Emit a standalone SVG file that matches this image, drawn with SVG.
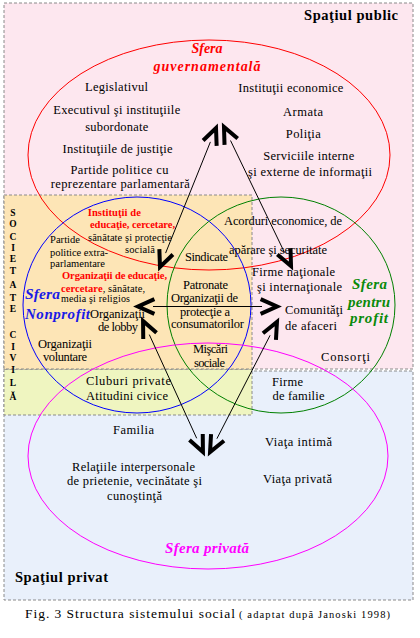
<svg xmlns="http://www.w3.org/2000/svg" width="420" height="638" viewBox="0 0 420 638">
<style>
.bg{stroke:#8a8a8a;stroke-width:1;stroke-dasharray:3,2}
.sph{fill:none;stroke-width:1}
.t{font-family:"Liberation Serif","Times New Roman",serif;font-size:12.5px;fill:#000}
.s{font-size:10.5px}
.rb{fill:#ff0000;font-weight:bold}
.ttl{font-weight:bold;font-style:italic;font-size:15px}
.b{font-weight:bold}
.m{text-anchor:middle}
.vl{font-family:"Liberation Serif","Times New Roman",serif;font-size:9.5px;font-weight:bold;text-anchor:middle}
.ln{stroke:#000;stroke-width:1;fill:none;marker-start:url(#chev);marker-end:url(#chev)}
</style>
<defs>
<marker id="chev" markerUnits="userSpaceOnUse" markerWidth="30" markerHeight="30" refX="3" refY="10" orient="auto-start-reverse" overflow="visible">
<path d="M1.6,2.7 L18,10 L1.6,17.3" fill="none" stroke="#000" stroke-width="4"/>
</marker>
</defs>

<g id="spaces">
<rect x="4" y="371" width="409" height="229" fill="#e9f0fb" class="bg"/>
<rect x="4" y="369" width="248" height="46" fill="#eff5c0" class="bg"/>
<rect x="4" y="3" width="409" height="366" fill="#fde7ef" class="bg"/>
<rect x="4" y="195" width="248" height="174" fill="#fde5b6" class="bg"/>
</g>

<g id="spatiul-public">
<text class="t b" x="398" y="20" text-anchor="end" style="font-size:14.5px" textLength="94">Spaţiul public</text>
</g>

<g id="societate-civila">
<text class="vl" x="13" y="215.5">S</text>
<text class="vl" x="13" y="226.5">O</text>
<text class="vl" x="13" y="239.5">C</text>
<text class="vl" x="13" y="250.5">I</text>
<text class="vl" x="13" y="261.5">E</text>
<text class="vl" x="13" y="273.5">T</text>
<text class="vl" x="13" y="287.5">A</text>
<text class="vl" x="13" y="300.5">T</text>
<text class="vl" x="13" y="311.5">E</text>
<text class="vl" x="13" y="337.5">C</text>
<text class="vl" x="13" y="349.5">I</text>
<text class="vl" x="13" y="361">V</text>
<text class="vl" x="13" y="372.5">I</text>
<text class="vl" x="13" y="386">L</text>
<text class="vl" x="13" y="399.5">Ă</text>
</g>

<g id="sfera-guvernamentala">
<ellipse cx="209" cy="155" rx="181" ry="115" class="sph" stroke="#ff0000"/>
<text class="t ttl m" x="207" y="53" style="fill:#ff0000;font-size:14px">Sfera</text>
<text class="t ttl m" x="207" y="71" style="fill:#ff0000;font-size:14px" textLength="107">guvernamentală</text>
<text class="t m" x="116.5" y="91" textLength="63">Legislativul</text>
<text class="t m" x="116.7" y="114" textLength="127">Executivul şi instituţiile</text>
<text class="t m" x="116.7" y="131" textLength="63">subordonate</text>
<text class="t m" x="117.5" y="153" textLength="110">Instituţiile de justiţie</text>
<text class="t m" x="119.5" y="174" textLength="98">Partide politice cu</text>
<text class="t m" x="120.3" y="188" textLength="139">reprezentare parlamentară</text>
<text class="t m" x="290.8" y="92" textLength="105">Instituţii economice</text>
<text class="t m" x="303" y="115.5" textLength="40">Armata</text>
<text class="t m" x="303.3" y="137.5" textLength="35">Poliţia</text>
<text class="t m" x="308.7" y="160" textLength="91">Serviciile interne</text>
<text class="t m" x="310" y="175.5" textLength="124">şi externe de informaţii</text>
</g>

<g id="sfera-nonprofit">
<ellipse cx="137" cy="305" rx="114" ry="108" class="sph" stroke="#0000ff"/>
<text class="t ttl" x="25" y="299" style="fill:#1a1ae6;font-size:15.5px" textLength="35">Sfera</text>
<text class="t ttl" x="25" y="318.5" style="fill:#1a1ae6;font-size:15px" textLength="65">Nonprofit</text>
<text class="t s rb m" x="114.3" y="216" textLength="53">Instituţii de</text>
<text class="t s rb m" x="132.5" y="228" textLength="85">educaţie, cercetare,</text>
<text class="t s m" x="130" y="241" textLength="84">sănătate şi protecţie</text>
<text class="t s m" x="140" y="253" textLength="30">socială</text>
<text class="t s" x="50" y="243" textLength="30">Partide</text>
<text class="t s" x="50" y="256" textLength="58">politice extra-</text>
<text class="t s" x="50" y="267" textLength="55">parlamentare</text>
<text class="t s rb" x="62" y="279" textLength="105">Organizaţii de educaţie,</text>
<text class="t s" x="61" y="291.5" textLength="84"><tspan class="rb">cercetare</tspan>, sănătate,</text>
<text class="t s" x="61" y="302" style="font-size:10px" textLength="69">media şi religios</text>
<text class="t m" x="117.5" y="317.5" textLength="55">Organizaţii</text>
<text class="t m" x="118" y="330.5" textLength="40">de lobby</text>
<text class="t m" x="65" y="347.5" textLength="54">Organizaţii</text>
<text class="t m" x="65" y="360.5" textLength="44">voluntare</text>
<text class="t" x="86" y="385" textLength="85">Cluburi  private</text>
<text class="t" x="86" y="399.5" textLength="82">Atitudini civice</text>
</g>

<g id="sfera-pentru-profit">
<ellipse cx="281" cy="305" rx="114" ry="108" class="sph" stroke="#008000"/>
<text class="t ttl m" x="369.5" y="289" style="fill:#0a8a0a" textLength="35">Sfera</text>
<text class="t ttl m" x="369" y="307" style="fill:#0a8a0a" textLength="42">pentru</text>
<text class="t ttl m" x="369" y="323" style="fill:#0a8a0a" textLength="38">profit</text>
<text class="t m" x="206.5" y="260.5" textLength="43">Sindicate</text>
<text class="t m" x="205.5" y="289" textLength="45">Patronate</text>
<text class="t m" x="204.5" y="301.5" textLength="67">Organizaţii de</text>
<text class="t m" x="205" y="315.5" textLength="50">protecţie a</text>
<text class="t m" x="207.5" y="328" textLength="73">consumatorilor</text>
<text class="t m" x="210.5" y="353" textLength="35">Mişcări</text>
<text class="t m" x="209.5" y="366.5" textLength="31">sociale</text>
<text class="t m" x="283" y="225" textLength="118">Acorduri economice, de</text>
<text class="t m" x="278" y="253.5" textLength="98">apărare şi  securitate</text>
<text class="t m" x="293.5" y="276" textLength="83">Firme naţionale</text>
<text class="t m" x="299.5" y="290.5" textLength="85">şi internaţionale</text>
<text class="t" x="285" y="314" textLength="58">Comunităţi</text>
<text class="t" x="285" y="330" textLength="52">de afaceri</text>
<text class="t m" x="345.5" y="360.5" textLength="49">Consorţi</text>
<text class="t" x="272" y="385.5" textLength="31">Firme</text>
<text class="t" x="272.5" y="400" textLength="52">de familie</text>
</g>

<g id="sfera-privata">
<ellipse cx="208" cy="456" rx="180" ry="113" class="sph" stroke="#ff00ff"/>
<text class="t m" x="133.5" y="434" textLength="41">Familia</text>
<text class="t m" x="298.5" y="445.5" textLength="67">Viaţa intimă</text>
<text class="t m" x="133.5" y="470.5" textLength="123">Relaţiile interpersonale</text>
<text class="t m" x="134.5" y="485" textLength="135">de prietenie, vecinătate şi</text>
<text class="t m" x="134.5" y="500" textLength="55">cunoştinţă</text>
<text class="t m" x="297.5" y="482.5" textLength="69">Viaţa privată</text>
<text class="t ttl m" x="207" y="552.5" style="fill:#ff00ff" textLength="84">Sfera privată</text>
</g>

<g id="spatiul-privat">
<text class="t b" x="15" y="581.5" style="font-size:14.5px" textLength="93">Spaţiul privat</text>
</g>

<g id="connectors">
<line class="ln" x1="210.4" y1="141.9" x2="165.6" y2="253.1"/>
<line class="ln" x1="230.5" y1="140.5" x2="284.5" y2="252.5"/>
<line class="ln" x1="153" y1="306.5" x2="262" y2="306.5"/>
<line class="ln" x1="149.3" y1="334.6" x2="196.7" y2="438.3"/>
<line class="ln" x1="270.1" y1="335.3" x2="216.9" y2="438.7"/>
</g>

<g id="caption">
<text class="t" x="25" y="618" style="font-size:13.5px" textLength="210">Fig. 3 Structura sistemului social</text>
<text class="t" x="239" y="618" style="font-size:10.5px" textLength="151">( adaptat după Janoski 1998)</text>
</g>
</svg>
